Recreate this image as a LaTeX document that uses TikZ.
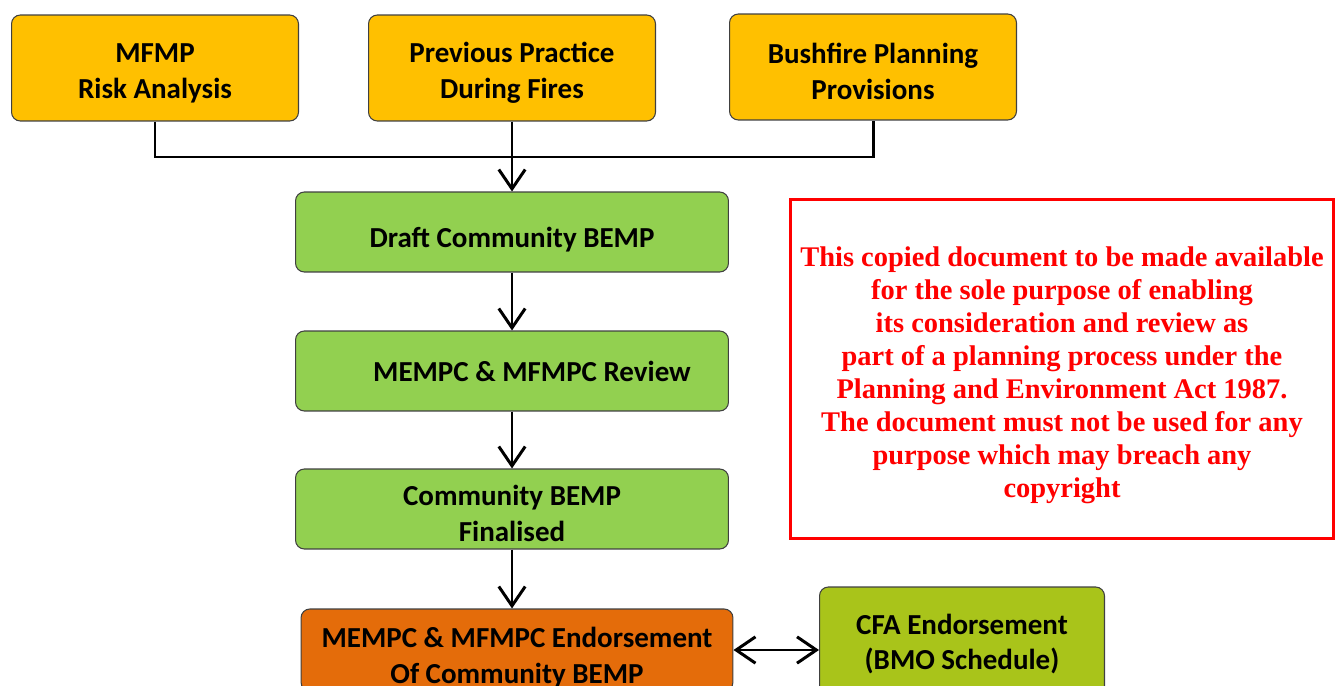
\documentclass[tikz,border=0pt]{standalone}
\usepackage{fontspec}
\setmainfont{Carlito}
\newfontfamily\noticefont{Liberation Serif}
\usetikzlibrary{arrows.meta}

\definecolor{amber}{HTML}{FFC000}
\definecolor{leaf}{HTML}{92D050}
\definecolor{rust}{HTML}{E46C0A}
\definecolor{olivine}{HTML}{A9C41A}
\definecolor{alert}{HTML}{FF0000}

\tikzset{
  stage/.style={draw=black!75, line width=0.6pt, rounded corners=5pt, align=center,
    inner sep=0pt, font=\fontsize{16.5}{20.4}\selectfont\bfseries},
  topbox/.style={stage, fill=amber, minimum width=5.74cm, minimum height=2.12cm},
  midbox/.style={stage, fill=leaf, minimum width=8.66cm, minimum height=1.6cm},
  link/.style={line width=1.7pt},
  flow/.style={link, -{Straight Barb[length=11pt,width=15pt]}},
  twoway/.style={link, {Straight Barb[length=11pt,width=15pt]}-{Straight Barb[length=11pt,width=15pt]}},
}

\begin{document}
\begin{tikzpicture}[x=0.02cm, y=-0.02cm]
  \useasboundingbox (0,0) rectangle (1342,686);
  \clip (0,0) rectangle (1342,686);

  \node[topbox] (mfmp) at (155,68) {\\[-3.4pt]MFMP\\Risk Analysis};
  \node[topbox] (practice) at (512,68) {\\[-3.4pt]Previous Practice\\During Fires};
  \node[topbox] (bushfire) at (873,67) {\\[-3.4pt]Bushfire Planning\\Provisions};

  \node[midbox] (draft) at (512,232) {\\Draft Community BEMP};
  \node[midbox] (review) at (512,371) {\hspace{0.8cm}MEMPC \& MFMPC Review};
  \node[midbox] (final) at (512,509) {\\[-3.4pt]Community BEMP\\Finalised};

  \node[stage, fill=rust, minimum width=8.64cm, minimum height=1.64cm] (endorse) at (517,650) {\\MEMPC \& MFMPC Endorsement\\Of Community BEMP};
  \node[stage, fill=olivine, minimum width=5.7cm, minimum height=2.28cm] (cfa) at (962,644) {CFA Endorsement\\(BMO Schedule)};

  \node[draw=alert, line width=1.7pt, minimum width=10.88cm, minimum height=6.8cm, align=center,
    text=alert, font=\noticefont\fontsize{16.2}{18.8}\selectfont\bfseries] (notice) at (1062,369)
    {\\This copied document to be made available\\for the sole purpose of enabling\\its consideration and review as\\part of a planning process under the\\Planning and Environment Act 1987.\\The document must not be used for any\\purpose which may breach any\\copyright};

  \coordinate (join) at (512,157);
  \draw[link] (mfmp.south) -- (mfmp.south |- join) -- (bushfire.south |- join) -- (bushfire.south);
  \draw[flow] (practice.south) -- (draft.north);
  \draw[flow] (draft.south) -- (review.north);
  \draw[flow] (review.south) -- (final.north);
  \draw[flow] (final.south) -- (final.south |- endorse.north);
  \draw[twoway] (endorse.east) -- (endorse.east -| cfa.west);
\end{tikzpicture}
\end{document}
